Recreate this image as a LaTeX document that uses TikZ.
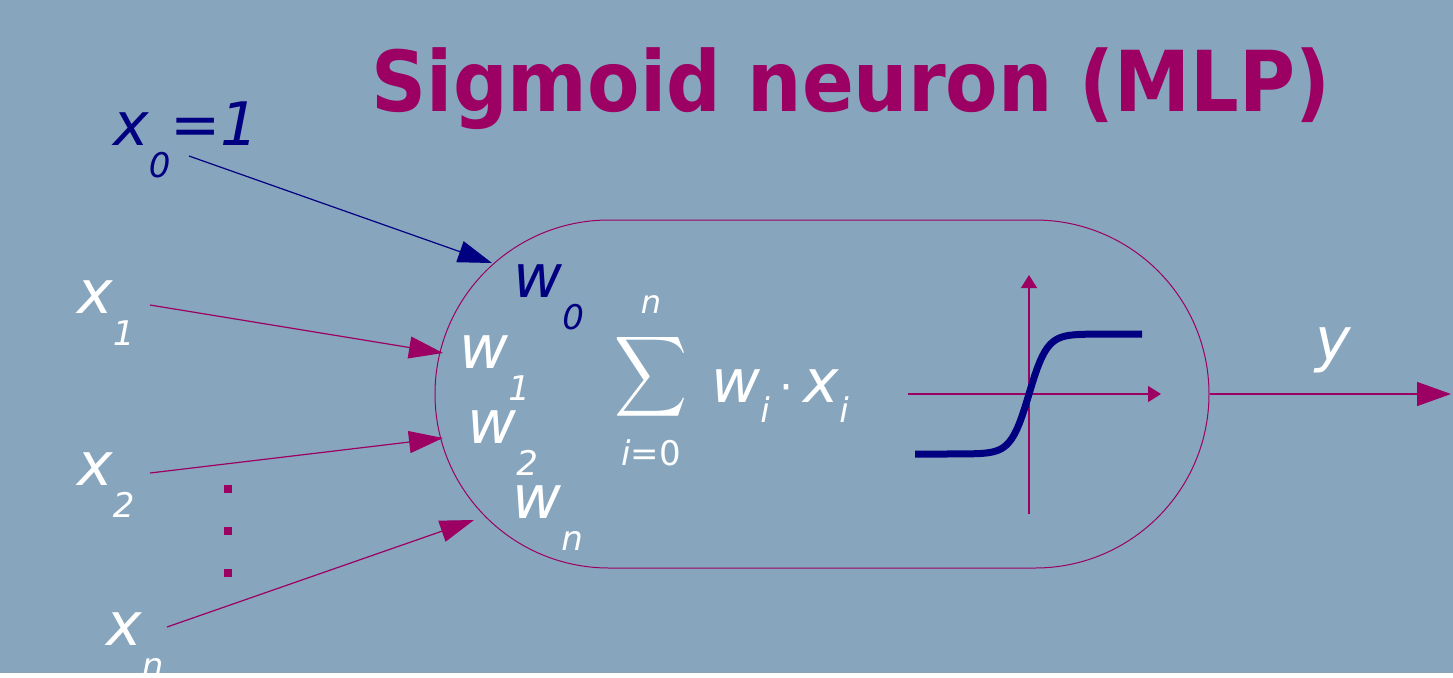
\documentclass[tikz,border=0pt]{standalone}
\usepackage{fontspec}
\setmainfont{DejaVu Sans}
\usepackage{graphicx}
\usetikzlibrary{arrows.meta,shapes.misc}
\definecolor{bgcol}{RGB}{135,166,190}
\definecolor{mag}{RGB}{155,0,98}
\definecolor{deepblue}{RGB}{0,0,128}
\newcommand\lsub[2]{#1\raisebox{-16pt}{\fontsize{17}{17}\selectfont #2}}
\newcommand\ssub[1]{\raisebox{-10pt}{\fontsize{17}{17}\selectfont #1}}
\begin{document}
\begin{tikzpicture}[x=0.5pt,y=-0.5pt,
  lbl/.style={anchor=base west, inner sep=0pt, font=\fontsize{30}{30}\selectfont\itshape},
  inarrow/.style={draw=mag, line width=0.6pt, -{Triangle[length=17pt,width=11pt]}},
  axisline/.style={draw=mag, line width=0.7pt, -{Triangle[length=6.5pt,width=8pt]}},
  dotsq/.style={fill=mag, minimum size=3.8pt, inner sep=0pt, draw=none}]
\fill[bgcol] (0,0) rectangle (1453,673);
% title
\node[inner sep=0pt, text=mag] (title) at (851,89)
  {\resizebox*{479pt}{41pt}{\bfseries Sigmoid neuron (MLP)}};
% neuron body
\node[rounded rectangle, draw=mag, line width=0.5pt, minimum width=387pt,
  minimum height=174pt, inner sep=0pt] (neuron) at (822,394) {};
% inputs
\node[lbl, text=deepblue] (x0) at (113,145) {\lsub{x}{0}=1};
\node[lbl, text=white] (x1) at (77,313) {\lsub{x}{1}};
\node[lbl, text=white] (x2) at (77,485) {\lsub{x}{2}};
\node[lbl, text=white] (xn) at (106,645) {\lsub{x}{n}};
\coordinate (s0) at (189,156); \coordinate (e0) at (492,263);
\coordinate (s1) at (150,305); \coordinate (e1) at (443,353);
\coordinate (s2) at (150,473); \coordinate (e2) at (443,438);
\coordinate (sn) at (167,627); \coordinate (en) at (474,520);
\draw[line width=0.6pt, deepblue, -{Triangle[length=17pt,width=11pt]}] (s0) -- (e0);
\draw[inarrow] (s1) -- (e1);
\draw[inarrow] (s2) -- (e2);
\draw[inarrow] (sn) -- (en);
\node[dotsq] (d1) at (228,489) {};
\node[dotsq] (d2) at (228,531) {};
\node[dotsq] (d3) at (228,573) {};
% weights
\node[lbl, text=deepblue] (w0) at (513,297) {\lsub{w}{0}};
\node[lbl, text=white] (w1) at (459,368) {\lsub{w}{1}};
\node[lbl, text=white] (w2) at (467,443) {\lsub{w}{2}};
\node[lbl, text=white] (wn) at (512,518) {\lsub{w}{n}};
% sum
\node[inner sep=0pt, text=white] (sigma) at (651.5,377)
  {\resizebox*{36.5pt}{45pt}{$\displaystyle\sum$}};
\node[anchor=base, inner sep=0pt, text=white, font=\fontsize{16}{16}\selectfont\itshape] (top) at (651,313) {n};
\node[anchor=base, inner sep=0pt, text=white, font=\fontsize{17}{17}\selectfont] (bot) at (651,465) {\itshape i\upshape =0};
\node[lbl, text=white] (prod) at (711,402) {w\ssub{i}\,{\upshape\fontsize{22}{22}\selectfont ·}\,x\ssub{i}};
% activation plot
\coordinate (ha) at (908,394); \coordinate (hb) at (1161,394);
\coordinate (va) at (1029,514); \coordinate (vb) at (1029,275);
\draw[axisline] (ha) -- (hb);
\draw[axisline] (va) -- (vb);
\draw[deepblue, line width=3.5pt] plot[domain=915:1142, samples=90] (\x, {394-60*tanh((\x-1029)/18)});
% output
\coordinate (out) at (1451,394);
\draw[draw=mag, line width=0.7pt, -{Triangle[length=17pt,width=12pt]}] (neuron.east) -- (out);
\node[lbl, text=white] (y) at (1315,360) {y};
\end{tikzpicture}
\end{document}
